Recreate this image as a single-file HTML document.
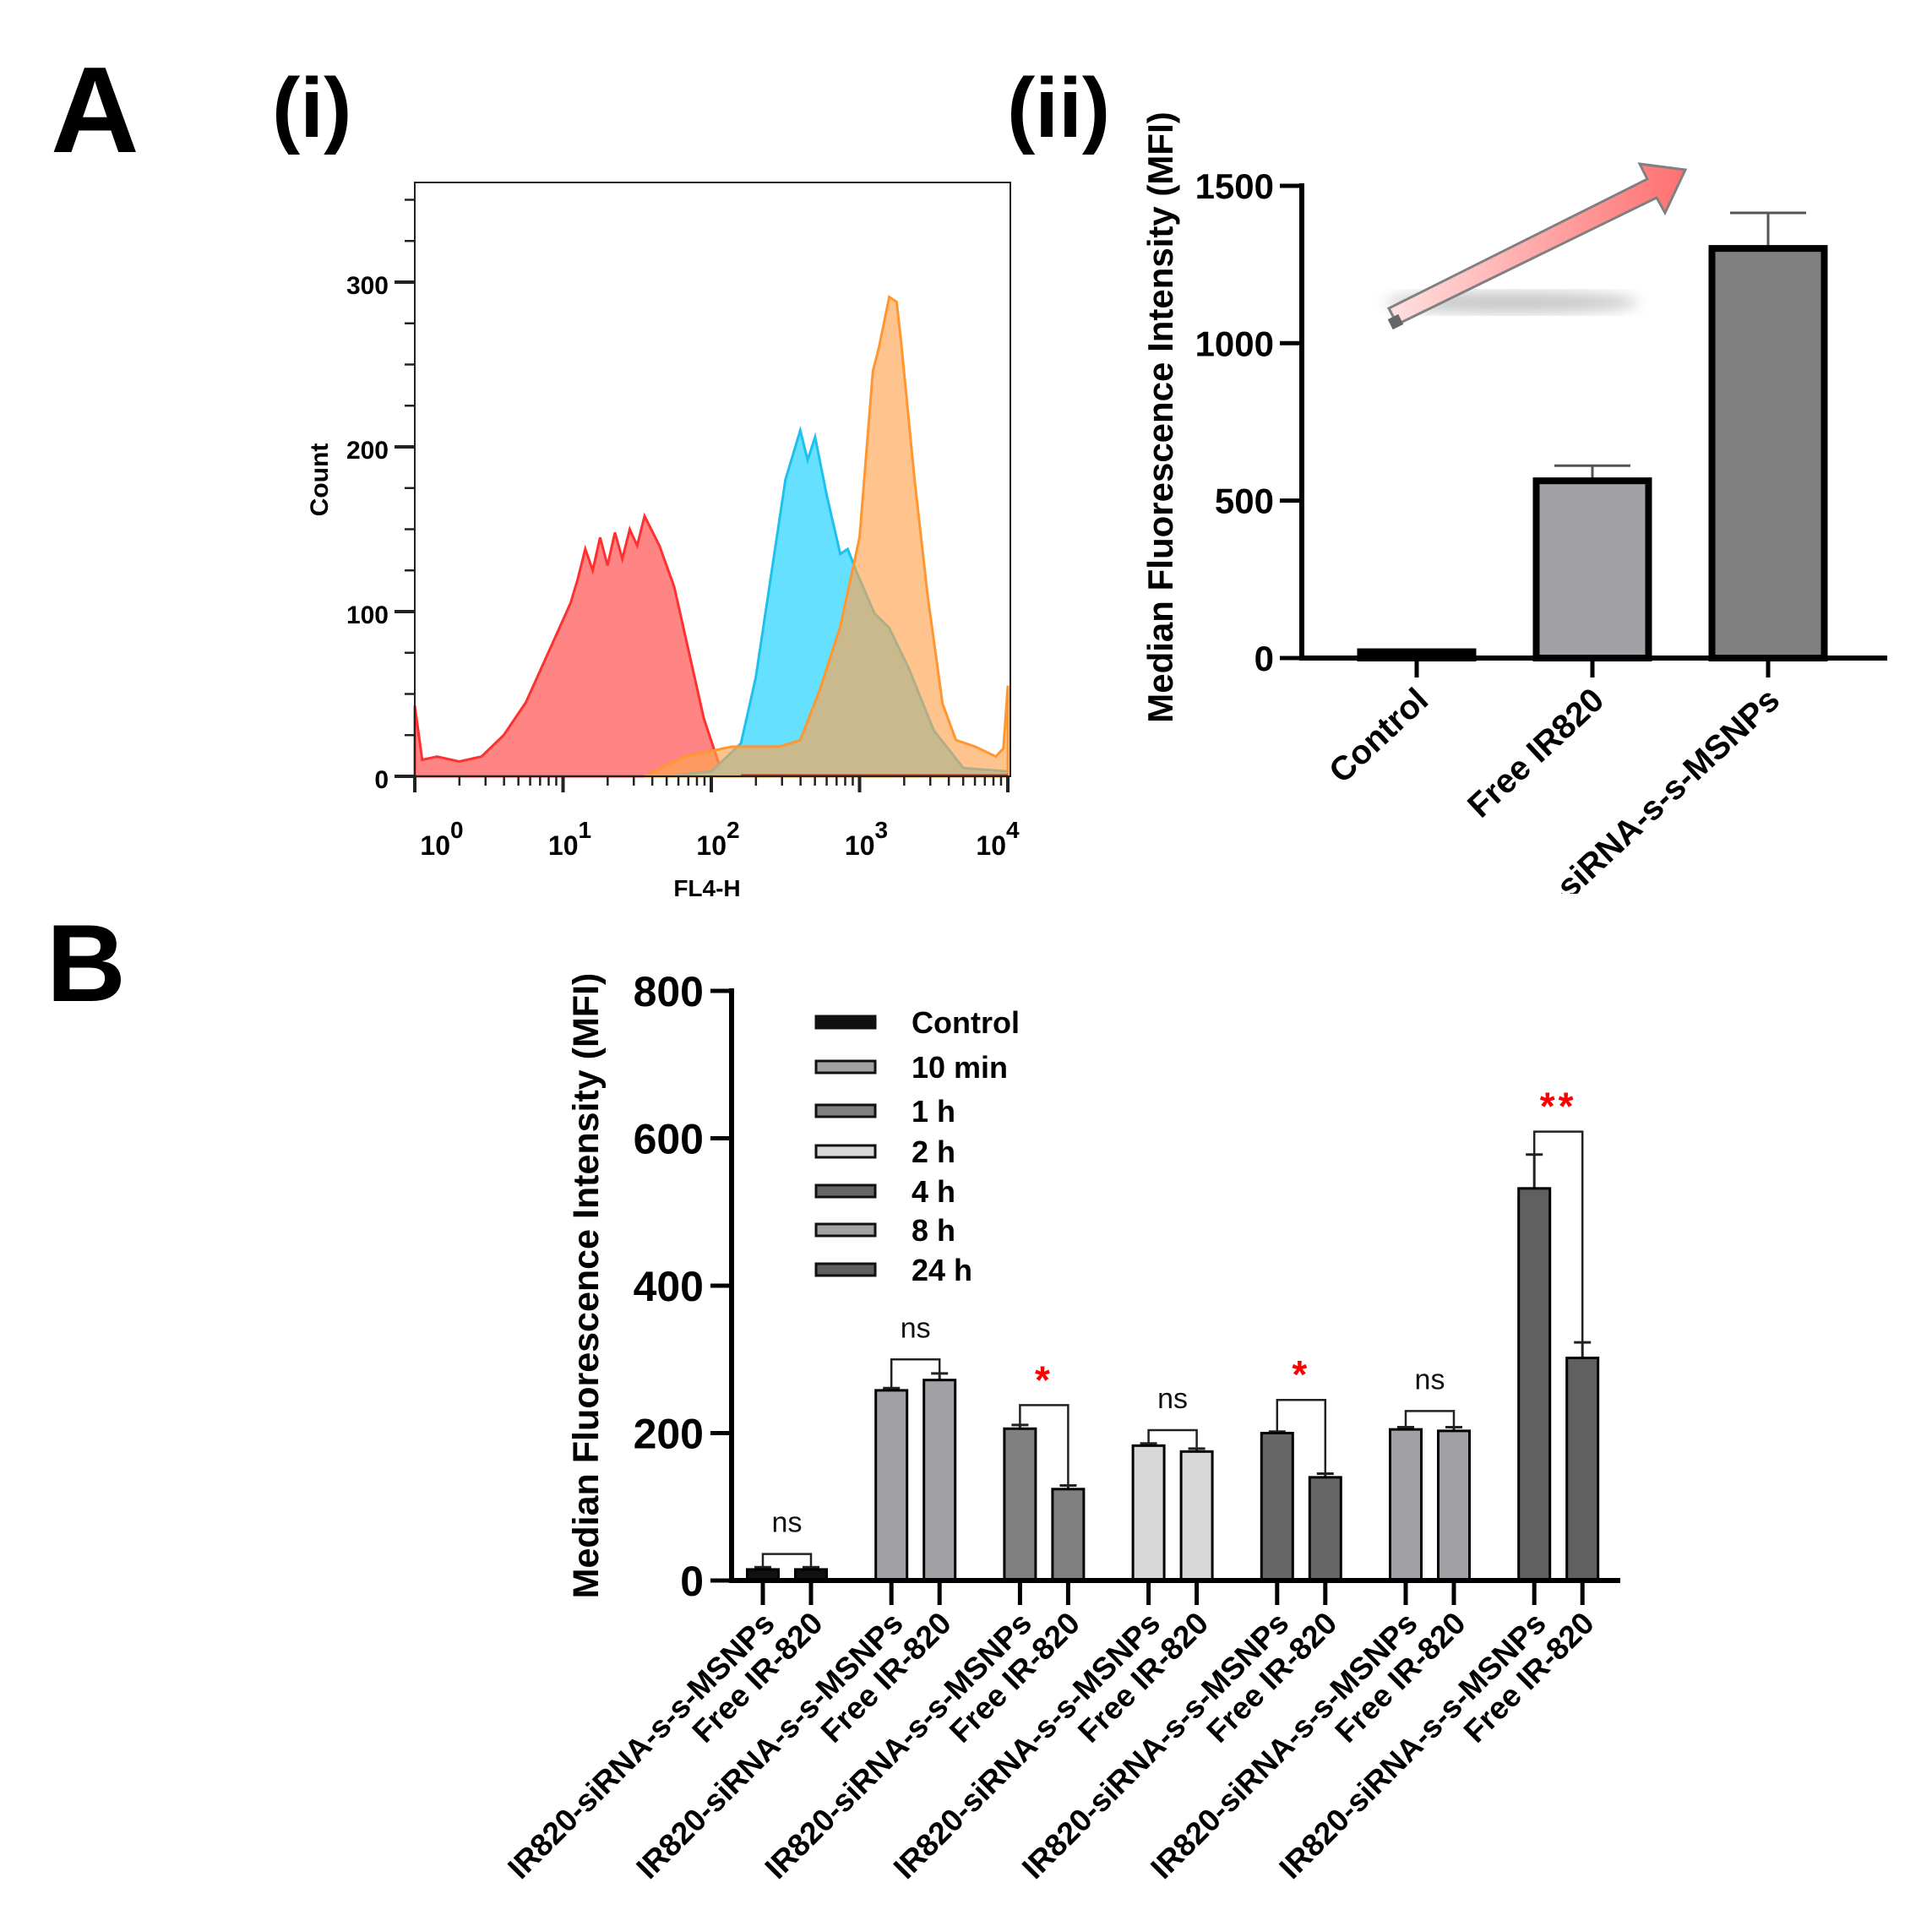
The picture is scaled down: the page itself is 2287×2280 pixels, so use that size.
<!DOCTYPE html>
<html><head><meta charset="utf-8"><style>
html,body{margin:0;padding:0;background:#fff}
svg{display:block;font-family:"Liberation Sans",Arial,sans-serif}
</style></head><body>
<svg id="fig" width="2287" height="2280" viewBox="0 0 2287 2280" xmlns="http://www.w3.org/2000/svg">
<defs>
<linearGradient id="arrowGrad" x1="0" y1="0" x2="1" y2="0"><stop offset="0" stop-color="#ffe0e0"/><stop offset="1" stop-color="#ff7070"/></linearGradient>
<filter id="blur"><feGaussianBlur stdDeviation="8"/></filter>
<clipPath id="clipTop"><rect x="0" y="0" width="2287" height="1058"/></clipPath>
</defs>
<text x="60" y="180" font-size="145" font-weight="bold">A</text>
<text x="322" y="162" font-size="100" font-weight="bold">(i)</text>
<text x="1192" y="162" font-size="100" font-weight="bold">(ii)</text>
<text x="55" y="1185" font-size="130" font-weight="bold">B</text>
<g id="hist"></g>
<g id="bar2"></g>
<g id="barB"></g>
</svg>
<script>
// ---------- Histogram data ----------
const redLog=[0,0.05,0.15,0.3,0.45,0.6,0.75,0.85,0.95,1.05,1.1,1.15,1.2,1.25,1.3,1.35,1.4,1.45,1.5,1.55,1.65,1.75,1.85,1.95,2.05,2.15,4];
const redCount=[43,10,12,9,12,25,45,65,85,105,120,138,125,145,128,148,132,150,140,158,140,115,75,35,8,0,0];
const blueLog=[1.7,2.0,2.2,2.3,2.4,2.5,2.6,2.65,2.7,2.78,2.87,2.92,2.98,3.1,3.2,3.33,3.5,3.7,4];
const blueCount=[0,3,20,60,120,180,210,192,206,170,135,138,124,99,90,66,28,5,3];
const orangeLog=[1.55,1.82,2.14,2.46,2.6,2.73,2.87,3.0,3.09,3.13,3.2,3.25,3.28,3.37,3.46,3.56,3.65,3.78,3.92,3.97,4.0];
const orangeCount=[0,12,18,18,22,52,91,145,246,260,291,288,264,181,109,44,22,18,12,17,55];
const histYTicks=[0,100,200,300];
const histXDecades=[0,1,2,3,4];

// ---------- Panel ii data ----------
const iiCats=["Control","Free IR820","IR820-siRNA-s-s-MSNPs"];
const iiVals=[20,563,1301];
const iiErr=[0,48,113];
const iiTicks=[0,500,1000,1500];

// ---------- Panel B data ----------
const bGroups=["Control","10 min","1 h","2 h","4 h","8 h","24 h"];
const bMSNP=[15,258,206,183,200,205,532];
const bFree=[15,272,124,175,140,203,302];
const bErrMSNP=[3,3,5,3,2,3,46];
const bErrFree=[3,9,5,4,5,5,21];
const bBracket=[36,300,238,204,245,230,609];
const bSig=["ns","ns","*","ns","*","ns","**"];
const bTicks=[0,200,400,600,800];
const bLabels=["IR820-siRNA-s-s-MSNPs","Free IR-820"];

const NS="http://www.w3.org/2000/svg";
function mk(parent,tag,attrs,txt){const e=document.createElementNS(NS,tag);for(const k in attrs)e.setAttribute(k,attrs[k]);if(txt!==undefined)e.textContent=txt;parent.appendChild(e);return e;}

// ===== Histogram =====
(function(){
const g=document.getElementById('hist');
const hx=l=>491+l*175.5, hy=c=>919-c*1.95;
function area(ls,cs,fill,stroke,op,name){
 let d=`M${hx(ls[0])},${hy(0)}`;
 ls.forEach((l,i)=>d+=` L${hx(l)},${hy(cs[i])}`);
 d+=` L${hx(ls[ls.length-1])},${hy(0)} Z`;
 const p=mk(g,'path',{d:d,fill:fill,'fill-opacity':op,stroke:stroke,'stroke-width':3});
 
 
}
area(redLog,redCount,'#ff8585','#ff3030',1,'red-histogram');
area(blueLog,blueCount,'#66e0ff','#1ec0f0',1,'blue-histogram');
area(orangeLog,orangeCount,'#ffa550','#ff9630',0.65,'orange-histogram');
mk(g,'line',{x1:hx(2.2),y1:918,x2:hx(4),y2:918,stroke:'#e02020','stroke-width':3});
mk(g,'rect',{x:491,y:216,width:705,height:703,fill:'none',stroke:'#222','stroke-width':2});
for(let c=0;c<=350;c+=25){const y=hy(c);const maj=histYTicks.includes(c);mk(g,'line',{x1:maj?467:479,y1:y,x2:491,y2:y,stroke:'#222','stroke-width':maj?4:2.5});}
histYTicks.forEach(v=>{const t=mk(g,'text',{x:460,y:hy(v)+14,'text-anchor':'end','font-size':30,'font-weight':'bold'},v);});
histXDecades.forEach((d,i)=>{const x=hx(d);mk(g,'line',{x1:x,y1:919,x2:x,y2:938,stroke:'#222','stroke-width':4});
 if(i<4)for(let k=2;k<10;k++){const xm=hx(d+Math.log10(k));mk(g,'line',{x1:xm,y1:919,x2:xm,y2:930,stroke:'#222','stroke-width':2.5});}
 const t=mk(g,'text',{x:x+(d==0?32:(d==4?-12:8)),y:1012,'text-anchor':'middle','font-size':32,'font-weight':'bold'});
 
 mk(t,'tspan',{},'10');mk(t,'tspan',{dy:-20,'font-size':28},String(d));});
let t=mk(g,'text',{x:837,y:1061,'text-anchor':'middle','font-size':28,'font-weight':'bold'},'FL4-H');
t=mk(g,'text',{x:0,y:0,'text-anchor':'middle','font-size':30,'font-weight':'bold',transform:'translate(388,568) rotate(-90)'},'Count');
})();

// ===== Panel ii =====
(function(){
const g=document.getElementById('bar2');
const y=v=>779-v*0.3727;
const cx=[1677,1885,2093];
mk(g,'ellipse',{cx:1790,cy:358,rx:150,ry:13,fill:'#bbb',filter:'url(#blur)',opacity:0.8});
mk(g,'polygon',{points:'1654,384 1644,365 1950,212 1941,194 1995,201 1971,252 1961,234',fill:'url(#arrowGrad)',stroke:'#808080','stroke-width':3});
mk(g,'line',{x1:1649,y1:375,x2:1655,y2:387,stroke:'#666','stroke-width':14});
const lg=mk(g,'g',{'clip-path':'url(#clipTop)'});
iiVals.forEach((v,i)=>{
 const w=133, x=cx[i]-w/2;
 const fill=['#111','#a2a2a6','#808080'][i];
 if(iiErr[i]>0){mk(g,'line',{x1:cx[i],y1:y(v),x2:cx[i],y2:y(v+iiErr[i]),stroke:'#555','stroke-width':3});
  mk(g,'line',{x1:cx[i]-45,y1:y(v+iiErr[i]),x2:cx[i]+45,y2:y(v+iiErr[i]),stroke:'#555','stroke-width':3});}
 const r=mk(g,'rect',{x:x,y:y(v),width:w,height:y(0)-y(v),fill:fill,stroke:'#000','stroke-width':8});
 
 
 mk(g,'line',{x1:cx[i],y1:783,x2:cx[i],y2:802,stroke:'#000','stroke-width':5});
 const t=mk(lg,'text',{x:0,y:0,'text-anchor':'end','font-size':40,'font-weight':'bold',transform:`translate(${cx[i]+16},832) rotate(-43)`},iiCats[i]);
 
});
mk(g,'line',{x1:1541,y1:217,x2:1541,y2:781,stroke:'#000','stroke-width':6});
mk(g,'line',{x1:1538,y1:779,x2:2234,y2:779,stroke:'#000','stroke-width':6});
iiTicks.forEach(v=>{mk(g,'line',{x1:1515,y1:y(v),x2:1541,y2:y(v),stroke:'#000','stroke-width':5});
 const t=mk(g,'text',{x:1508,y:y(v)+15,'text-anchor':'end','font-size':42,'font-weight':'bold'},v);});
const t=mk(g,'text',{x:0,y:0,'text-anchor':'middle','font-size':42,'font-weight':'bold',transform:'translate(1388,494) rotate(-90)'},'Median Fluorescence Intensity (MFI)');

})();

// ===== Panel B =====
(function(){
const g=document.getElementById('barB');
const y=v=>1871-v*0.8725;
const gx=i=>903+i*152.2;
const colors=['#111','#a2a2a6','#808080','#d8d8d8','#666','#a2a2a6','#606060'];
const bw=37;
bGroups.forEach((name,i)=>{
 const x1=gx(i), x2=gx(i)+57;
 [[x1,bMSNP[i],bErrMSNP[i],'msnp'],[x2,bFree[i],bErrFree[i],'free']].forEach(([cx,v,e,k])=>{
  mk(g,'line',{x1:cx,y1:y(v),x2:cx,y2:y(v+e),stroke:'#222','stroke-width':3});
  mk(g,'line',{x1:cx-10,y1:y(v+e),x2:cx+10,y2:y(v+e),stroke:'#222','stroke-width':3});
  const r=mk(g,'rect',{x:cx-bw/2,y:y(v),width:bw,height:y(0)-y(v),fill:colors[i],stroke:'#000','stroke-width':3});
  
  
  mk(g,'line',{x1:cx,y1:1873,x2:cx,y2:1900,stroke:'#000','stroke-width':5});
 });
 const tl=bMSNP[i]+bErrMSNP[i], tr=bFree[i]+bErrFree[i];
 const top=bBracket[i];
 mk(g,'polyline',{points:`${x1},${y(tl)} ${x1},${y(top)} ${x2},${y(top)} ${x2},${y(tr)}`,fill:'none',stroke:'#222','stroke-width':2.5});
 const red=bSig[i]!=='ns';
 const s=mk(g,'text',{x:(x1+x2)/2,y:y(top)-(red?14:26),'text-anchor':'middle','font-size':red?46:34,'font-weight':red?'bold':'normal',fill:red?'#ff0000':'#111','letter-spacing':red?4:0},bSig[i]);
 
 [[x1,bLabels[0]],[x2,bLabels[1]]].forEach(([cx,lab])=>{
  const t=mk(g,'text',{x:0,y:0,'text-anchor':'end','font-size':37,'font-weight':'bold',transform:`translate(${cx+16},1924) rotate(-45)`},lab);
  
 });
});
mk(g,'line',{x1:866,y1:1170,x2:866,y2:1874,stroke:'#000','stroke-width':6});
mk(g,'line',{x1:863,y1:1871,x2:1918,y2:1871,stroke:'#000','stroke-width':6});
bTicks.forEach(v=>{mk(g,'line',{x1:841,y1:y(v),x2:866,y2:y(v),stroke:'#000','stroke-width':5});
 const t=mk(g,'text',{x:833,y:y(v)+18,'text-anchor':'end','font-size':50,'font-weight':'bold'},v);});
const t=mk(g,'text',{x:0,y:0,'text-anchor':'middle','font-size':43,'font-weight':'bold',transform:'translate(708,1522) rotate(-90)'},'Median Fluorescence Intensity (MFI)');

const ly=[1210,1263,1315,1363,1410,1456,1503];
bGroups.forEach((name,i)=>{
 const lg=mk(g,'g',{});
 
 
 mk(lg,'rect',{x:966,y:ly[i]-7,width:70,height:14,fill:colors[i],stroke:'#111','stroke-width':3});
 mk(lg,'text',{x:1079,y:ly[i]+13,'font-size':36,'font-weight':'bold'},name);
});
})();
</script>
</body></html>
